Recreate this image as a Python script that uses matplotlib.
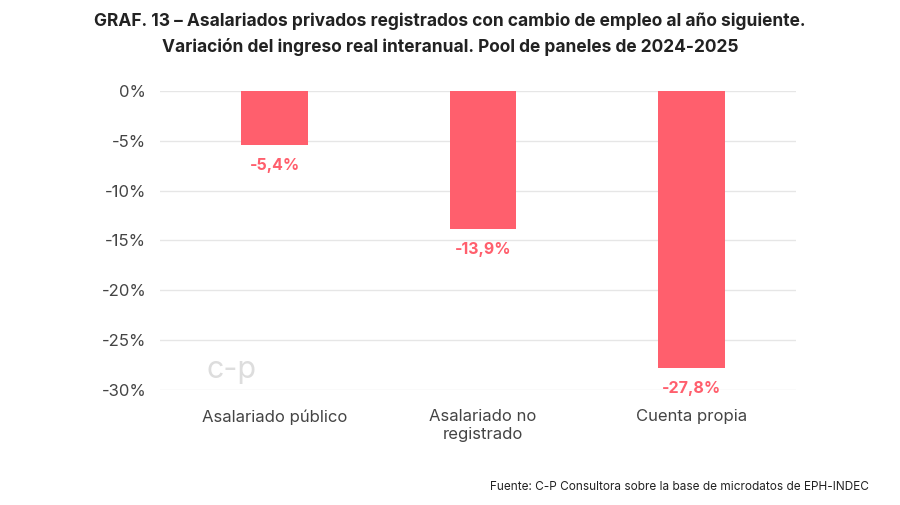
import matplotlib
matplotlib.use("Agg")
import matplotlib.pyplot as plt

categories = ["Asalariado público", "Asalariado no\nregistrado", "Cuenta propia"]
values = [-5.4, -13.9, -27.8]
labels = ["-5,4%", "-13,9%", "-27,8%"]
yticks = [0, -5, -10, -15, -20, -25, -30]
yticklabels = ["0%", "-5%", "-10%", "-15%", "-20%", "-25%", "-30%"]

plt.rcParams['font.family'] = ['Inter', 'DejaVu Sans']
fig = plt.figure(figsize=(9, 5.05), dpi=100)
ax = fig.add_axes([0.178, 0.228, 0.706, 0.592])
red = "#FF5F6D"
x = list(range(len(categories)))
ax.bar(x, values, width=0.32, color=red, zorder=3)
for xi, v, l in zip(x, values, labels):
    ax.text(xi, v - 1.3, l, ha="center", va="top", color=red, fontsize=11.5, fontweight="bold")
ax.set_ylim(-30, 0)
ax.set_xlim(-0.55, 2.5)
ax.set_yticks(yticks)
ax.set_yticklabels(yticklabels, fontsize=12, color="#444444")
ax.set_xticks(x)
ax.set_xticklabels(categories, fontsize=12, color="#444444")
ax.tick_params(length=0, pad=10)
ax.tick_params(axis="x", pad=14)
ax.grid(axis="y", color="#e6e6e6", lw=1, zorder=0)
for s in ax.spines.values():
    s.set_visible(False)
ax.text(-0.33, -28.0, "c-p", fontsize=22, color="#dddddd", ha="left", va="center", zorder=1)

fig.text(0.5, 0.958, "GRAF. 13 – Asalariados privados registrados con cambio de empleo al año siguiente.",
         ha="center", va="center", fontsize=12.5, fontweight="bold", color="#222222")
fig.text(0.5, 0.906, "Variación del ingreso real interanual. Pool de paneles de 2024-2025",
         ha="center", va="center", fontsize=12.5, fontweight="bold", color="#222222")
fig.text(0.965, 0.035, "Fuente: C-P Consultora sobre la base de microdatos de EPH-INDEC",
         ha="right", va="center", fontsize=8.5, color="#222222")
fig.savefig("out.png", dpi=100, facecolor="white")
